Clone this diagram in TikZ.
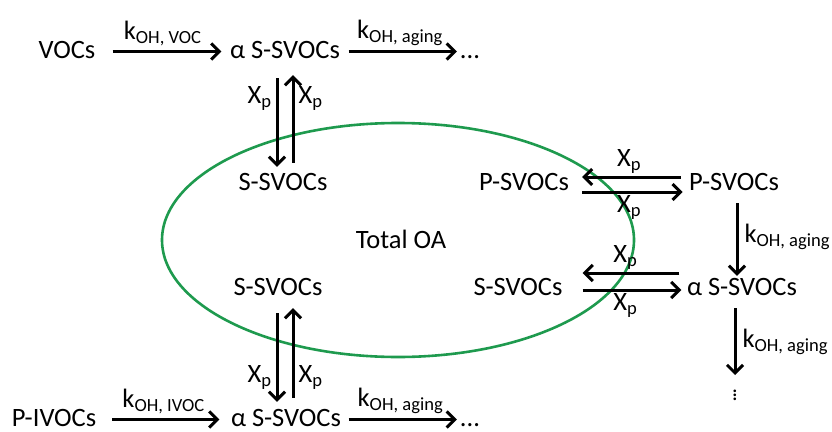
\documentclass[tikz,border=0pt]{standalone}
\usepackage{fontspec}
\setmainfont{Carlito}
\usetikzlibrary{arrows.meta,positioning}
\definecolor{oagreen}{HTML}{1E9A4E}
\tikzset{
  species/.style={font=\fontsize{26.5}{30}\selectfont, anchor=base, inner sep=2pt, text height=17pt, text depth=4pt},
  rate/.style={font=\fontsize{26.5}{30}\selectfont, inner sep=1pt},
  ellip/.style={font=\fontsize{22}{26}\selectfont, inner sep=0pt},
  flow/.style={-{Straight Barb[length=8pt,width=16pt]}, line width=3pt},
  oaring/.style={draw=oagreen, line width=2.6pt}
}

\begin{document}
\begin{tikzpicture}[x=1pt,y=-1pt]
  \useasboundingbox (0,0) rectangle (832,431);
  % total OA
  \draw[oaring] (398,240) ellipse [x radius=236pt, y radius=117pt];
  \node[species] (oa) at (401,248) {Total OA};

  % upper chain
  \node[species] (voc) at (67,58) {VOCs};
  \node[species] (as1) at (285,58) {α S-SVOCs};
  \node[species] (dot1) at (470,58) {...};
  \node[species] (ss1) at (283,190) {S-SVOCs};
  \draw[flow, shorten <=15pt, shorten >=6.5pt] (voc) -- (as1) node[rate, midway, above=3pt] {k\textsubscript{OH, VOC}};
  \draw[flow, shorten <=6.5pt, shorten >=1pt] (as1) -- (dot1) node[rate, midway, above=3pt] {k\textsubscript{OH, aging}};
  \draw[flow, shorten <=14pt, shorten >=4pt] ([xshift=-8pt]as1.south) -- ([xshift=-6pt]ss1.north) node[rate, pos=0.32, left=3pt] {X\textsubscript{p}};
  \draw[flow, shorten <=8pt, shorten >=11pt] ([xshift=10pt]ss1.north) -- ([xshift=8pt]as1.south) node[rate, pos=0.68, right=3pt] {X\textsubscript{p}};

  % right side
  \node[species] (psv1) at (524,190) {P-SVOCs};
  \node[species] (psv2) at (734,190) {P-SVOCs};
  \node[species] (ss3) at (518,295) {S-SVOCs};
  \node[species, inner sep=1pt] (as3) at (742,295) {α S-SVOCs};
  \node[ellip, anchor=north] (vdot) at (735,384) {$\vdots$};
  \draw[flow, shorten <=6.3pt, shorten >=11pt] ([yshift=6.5pt]psv2.west) -- ([yshift=6.5pt]psv1.east) node[rate, midway, above=1pt] {X\textsubscript{p}};
  \draw[flow, shorten <=11pt, shorten >=4.3pt] ([yshift=-8.5pt]psv1.east) -- ([yshift=-8.5pt]psv2.west) node[rate, midway, below=1pt] {X\textsubscript{p}};
  \draw[flow, shorten <=7pt, shorten >=1pt] ([xshift=3pt]psv2.south) -- ([xshift=-5pt]as3.north) node[rate, midway, right=5pt] {k\textsubscript{OH, aging}};
  \draw[flow, shorten <=6.5pt, shorten >=18pt] ([yshift=15.5pt]as3.west) -- ([yshift=15.5pt]ss3.east) node[rate, midway, above=1pt] {X\textsubscript{p}};
  \draw[flow, shorten <=18pt, shorten >=4.5pt] ([yshift=-1.5pt]ss3.east) -- ([yshift=-1.5pt]as3.west) node[rate, midway, below=1pt] {X\textsubscript{p}};
  \draw[flow, shorten <=8pt, shorten >=9pt] ([xshift=-7pt]as3.south) -- (vdot.north) node[rate, midway, right=5pt] {k\textsubscript{OH, aging}};

  % lower chain
  \node[species] (ss2) at (278,295) {S-SVOCs};
  \node[species] (pivoc) at (54,426) {P-IVOCs};
  \node[species] (as4) at (286,426) {α S-SVOCs};
  \node[species] (dot4) at (470,426) {...};
  \draw[flow, shorten <=12pt, shorten >=5pt] ([xshift=-1pt]ss2.south) -- ([xshift=-9pt]as4.north) node[rate, pos=0.72, left=3pt] {X\textsubscript{p}};
  \draw[flow, shorten <=9pt, shorten >=7pt] ([xshift=7pt]as4.north) -- ([xshift=15pt]ss2.south) node[rate, pos=0.28, right=3pt] {X\textsubscript{p}};
  \draw[flow, shorten <=14pt, shorten >=9.5pt] (pivoc) -- (as4) node[rate, midway, above=3pt] {k\textsubscript{OH, IVOC}};
  \draw[flow, shorten <=5.5pt, shorten >=1pt] (as4) -- (dot4) node[rate, midway, above=3pt] {k\textsubscript{OH, aging}};
\end{tikzpicture}
\end{document}
